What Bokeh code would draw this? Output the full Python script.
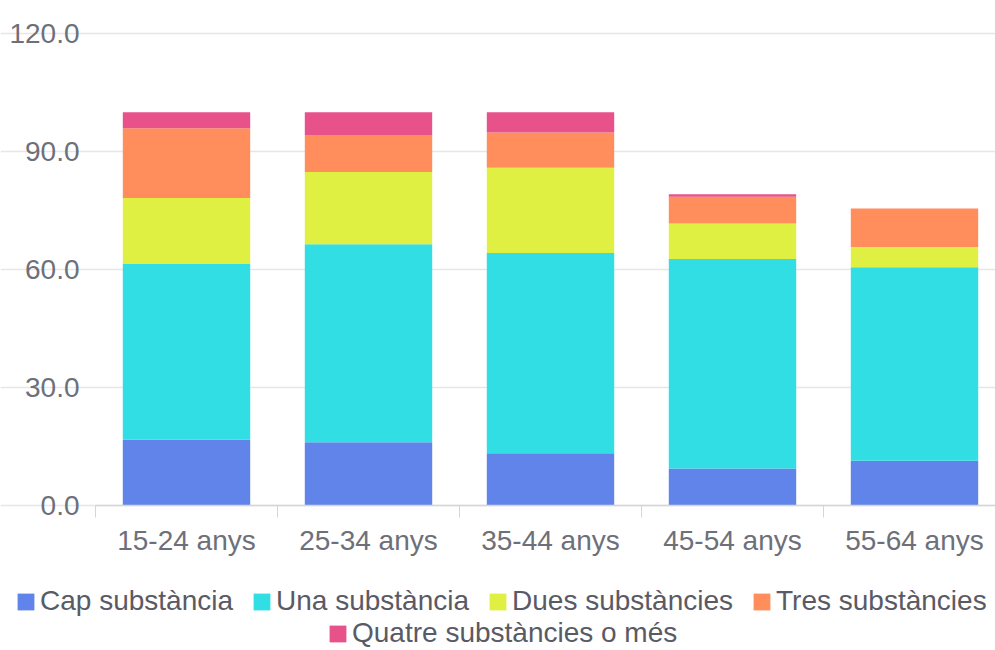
from bokeh.plotting import figure
from bokeh.models import (ColumnDataSource, Range1d, FixedTicker, NumeralTickFormatter,
                          Legend, LegendItem)
from bokeh.embed import file_html
from bokeh.resources import INLINE

categories = ["15-24 anys", "25-34 anys", "35-44 anys", "45-54 anys", "55-64 anys"]
series_names = ["Cap substància", "Una substància", "Dues substàncies",
                "Tres substàncies", "Quatre substàncies o més"]
cap = [16.7, 16.1, 13.3, 9.4, 11.4]
una = [44.8, 50.3, 50.9, 53.3, 49.2]
dues = [16.7, 18.4, 21.7, 9.0, 5.1]
tres = [17.7, 9.4, 8.9, 6.8, 9.8]
quatre = [4.1, 5.8, 5.2, 0.6, 0.0]
y_ticks = [0, 30, 60, 90, 120]
colors = ["#6084ea", "#31dee4", "#dff042", "#ff8e5c", "#e8528b"]

keys = ["cap", "una", "dues", "tres", "quatre"]
xpos = [i + 0.5 for i in range(len(categories))]
source = ColumnDataSource(dict(x=xpos, cap=cap, una=una, dues=dues, tres=tres, quatre=quatre))

W, H = 995, 650
# pixel layout of the plotting area inside the canvas
PLOT_L, PLOT_T, PLOT_B = 95, 33, 505
CAT_PX = 182.0
y_px = (PLOT_B - PLOT_T) / 120.0
x_start = -PLOT_L / CAT_PX
x_end = (W - PLOT_L) / CAT_PX
y_end = 120 + PLOT_T / y_px
y_start = -(H - PLOT_B) / y_px

p = figure(width=W, height=H, output_backend="svg", toolbar_location=None,
           x_range=Range1d(x_start, x_end), y_range=Range1d(y_start, y_end),
           min_border_left=0, min_border_right=0, min_border_top=0, min_border_bottom=0)
p.outline_line_color = None

renderers = p.vbar_stack(keys, x="x", width=0.7, color=colors, line_color=None, source=source)

AX_COLOR = "#6e7079"
FONT = "Liberation Sans"
xa = p.xaxis[0]
xa.fixed_location = 0
xa.bounds = (0, x_end)
xa.ticker = FixedTicker(ticks=xpos, minor_ticks=list(range(len(categories) + 1)))
xa.major_label_overrides = {x: c for x, c in zip(xpos, categories)}
xa.major_tick_out = 0
xa.major_tick_in = 0
xa.minor_tick_out = 12
xa.minor_tick_in = 0
xa.minor_tick_line_color = "#d6d6d6"
xa.axis_line_color = "#d6d6d6"
xa.axis_line_width = 1.5
xa.major_label_text_font_size = "28px"
xa.major_label_text_color = AX_COLOR
xa.major_label_text_font = FONT
xa.major_label_standoff = 7

ya = p.yaxis[0]
ya.fixed_location = 0
ya.bounds = (0, 120)
ya.ticker = FixedTicker(ticks=y_ticks)
ya.formatter = NumeralTickFormatter(format="0.0")
ya.axis_line_color = None
ya.major_tick_line_color = None
ya.minor_tick_line_color = None
ya.major_label_text_font_size = "28px"
ya.major_label_text_color = AX_COLOR
ya.major_label_text_font = FONT
ya.major_label_standoff = 10

p.xgrid.grid_line_color = None
p.ygrid.grid_line_color = "#e6e6e6"
p.ygrid.grid_line_width = 1.5
p.ygrid.bounds = (0, x_end)

items = [LegendItem(label=n, renderers=[r]) for n, r in zip(series_names, renderers)]

def make_legend(its, loc):
    return Legend(items=its, location=loc, orientation="horizontal",
                  glyph_width=21, glyph_height=21, label_standoff=4, spacing=18,
                  padding=0, margin=0, border_line_color=None, background_fill_alpha=0,
                  label_text_font_size="28px", label_text_color="#5a5a64",
                  label_text_font=FONT, label_height=30)

leg1 = make_legend(items[:4], (15, 33))
leg2 = make_legend(items[4:], (327, 1))
p.add_layout(leg1, "center")
p.add_layout(leg2, "center")

open("out.html", "w").write(file_html(p, INLINE))
